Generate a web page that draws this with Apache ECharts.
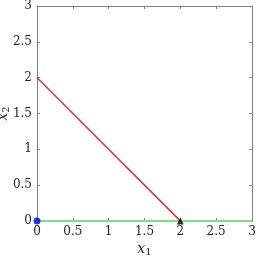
<!DOCTYPE html>
<html><head><meta charset="utf-8">
<script src="https://cdn.jsdelivr.net/npm/echarts@6/dist/echarts.min.js"></script>
<style>html,body{margin:0;padding:0;background:#fff}#c{width:256px;height:260px}</style>
</head><body><div id="c"></div>
<script>
var ticks = [0, 0.5, 1, 1.5, 2, 2.5, 3];
var redLine = [[0, 2], [2, 0]];
var greenLine = [[0, 0], [3, 0]];
var bluePoint = [[0, 0]];
var blackPoint = [[2, 0]];

var chart = echarts.init(document.getElementById('c'), null, {renderer: 'canvas'});
var font = 'DejaVu Serif';
function axisCommon() {
  return {
    min: 0, max: 3, interval: 0.5,
    nameMoveOverlap: false,
    axisLine: {show: true, onZero: false, lineStyle: {color: '#808080', width: 1}},
    axisTick: {show: true, inside: true, length: 3, lineStyle: {color: '#808080'}},
    splitLine: {show: false},
    axisLabel: {color: '#262626', fontFamily: font, fontSize: 12, margin: 5,
      formatter: function (v) { return ticks.indexOf(v) >= 0 ? String(v) : ''; }}
  };
}
var nameStyle = {fontFamily: font, rich: {
  i: {fontFamily: font, fontStyle: 'italic', fontSize: 14, color: '#262626'},
  s: {fontFamily: font, fontSize: 10, color: '#262626', verticalAlign: 'bottom', padding: [6, 0, 0, 0]}
}};
var xa = axisCommon();
xa.type = 'value'; xa.position = 'bottom';
xa.name = '{i|x}{s|1}'; xa.nameLocation = 'middle'; xa.nameGap = 20;
xa.nameTextStyle = nameStyle;
var xa2 = axisCommon();
xa2.type = 'value'; xa2.position = 'top'; xa2.axisLabel = {show: false};
var ya = axisCommon();
ya.type = 'value'; ya.position = 'left';
ya.name = '{i|x}{s|2}'; ya.nameLocation = 'middle'; ya.nameGap = 26;
ya.nameTextStyle = nameStyle;
var ya2 = axisCommon();
ya2.type = 'value'; ya2.position = 'right'; ya2.axisLabel = {show: false};

chart.setOption({
  animation: false,
  textStyle: {fontFamily: font},
  grid: {left: 37, top: 6, right: 4, bottom: 39, containLabel: false, outerBoundsMode: 'none'},
  xAxis: [xa, xa2],
  yAxis: [ya, ya2],
  series: [
    {type: 'line', data: greenLine, symbol: 'none', lineStyle: {color: '#80e080', width: 2}, z: 2},
    {type: 'line', data: redLine, symbol: 'none', lineStyle: {color: '#ff0000', width: 1.2}, z: 3},
    {type: 'scatter', data: bluePoint, symbol: 'circle', symbolSize: 7, itemStyle: {color: '#0000dd'}, z: 4},
    {type: 'scatter', data: blackPoint, symbol: 'triangle', symbolSize: 7, itemStyle: {color: '#000'}, z: 4}
  ]
});
</script></body></html>
